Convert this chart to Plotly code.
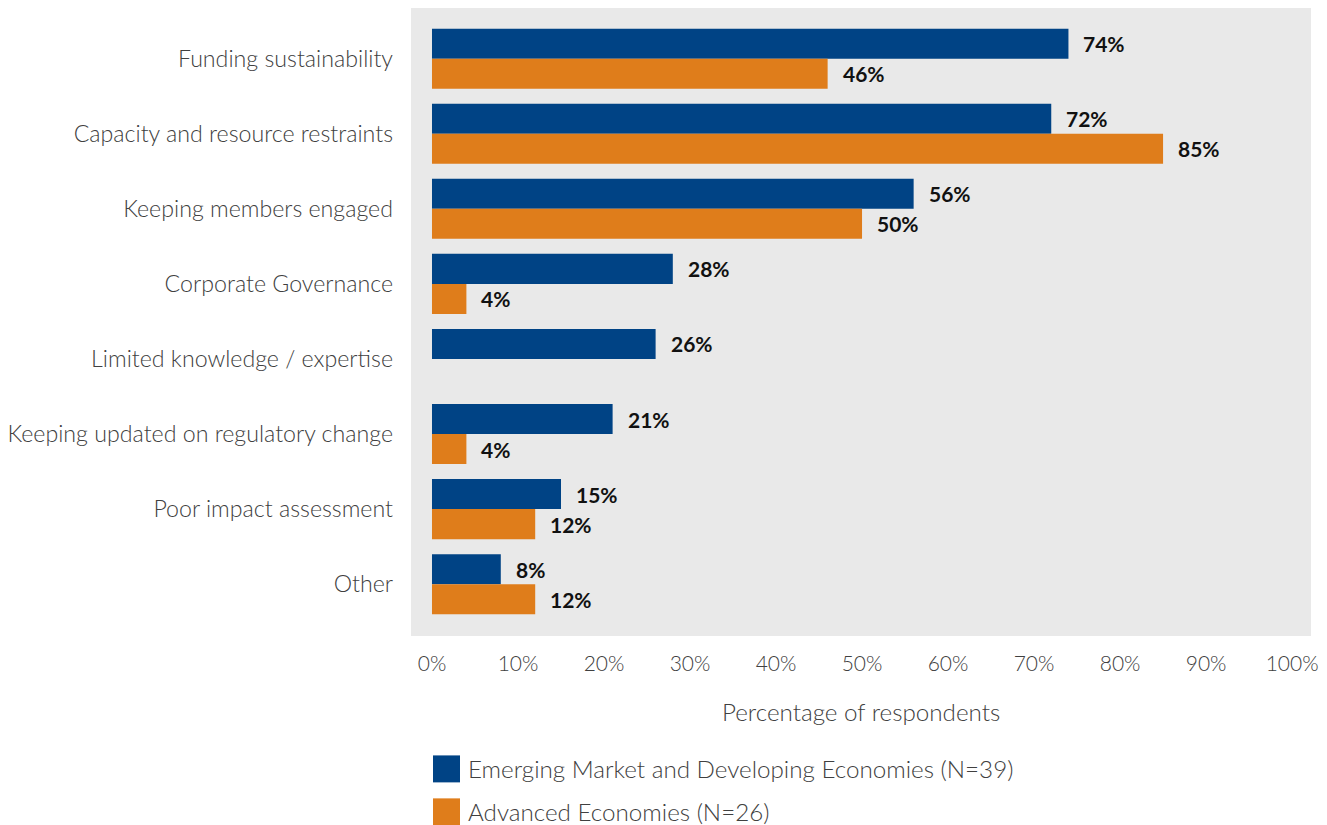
import plotly.graph_objects as go

# Survey data: share of respondents citing each challenge
categories = [
    "Funding sustainability",
    "Capacity and resource restraints",
    "Keeping members engaged",
    "Corporate Governance",
    "Limited knowledge / expertise",
    "Keeping updated on regulatory change",
    "Poor impact assessment",
    "Other",
]
emde_values = [74, 72, 56, 28, 26, 21, 15, 8]
ae_values = [46, 85, 50, 4, None, 4, 12, 12]

series_names = [
    "Emerging Market and Developing Economies (N=39)",
    "Advanced Economies (N=26)",
]
x_tick_values = [0, 10, 20, 30, 40, 50, 60, 70, 80, 90, 100]
x_tick_labels = [f"{v}%" for v in x_tick_values]
x_title = "Percentage of respondents"

BLUE = "#004385"
ORANGE = "#DF7D1B"
TEXT = "#404040"
FONT = "Lato"

W, H = 1327, 825
L, R, T, B = 411, 16, 8, 188.5
plot_w = W - L - R
plot_h = H - T - B


def px_to_paper_y(py):
    return (H - B - py) / plot_h


def px_to_paper_x(px):
    return (px - L) / plot_w


fig = go.Figure()
fig.add_trace(go.Bar(
    y=categories, x=emde_values, orientation="h", name=series_names[0],
    marker=dict(color=BLUE, line=dict(width=0)), showlegend=False,
))
fig.add_trace(go.Bar(
    y=categories, x=ae_values, orientation="h", name=series_names[1],
    marker=dict(color=ORANGE, line=dict(width=0)), showlegend=False,
))

annotations = []
# value labels beside each bar end
for vals, shift in ((emde_values, 15), (ae_values, -15)):
    for cat, v in zip(categories, vals):
        if v is None:
            continue
        annotations.append(dict(
            x=v, y=cat, xref="x", yref="y", text=f"{v}%", showarrow=False,
            xanchor="left", yanchor="middle", xshift=13, yshift=shift,
            font=dict(family=FONT, size=21, color="#111111", weight=700),
        ))

# axis title
annotations.append(dict(
    x=0.5, y=px_to_paper_y(712), xref="paper", yref="paper", text=x_title,
    showarrow=False, xanchor="center", yanchor="middle",
    font=dict(family=FONT, size=24.2, color=TEXT, weight=300),
))

# legend
shapes = []
legend_rows = [(series_names[0], BLUE, 756, 783), (series_names[1], ORANGE, 799, 826)]
for name, color, y0, y1 in legend_rows:
    shapes.append(dict(
        type="rect", xref="paper", yref="paper",
        x0=px_to_paper_x(433), x1=px_to_paper_x(460),
        y0=px_to_paper_y(y1), y1=px_to_paper_y(y0),
        fillcolor=color, line=dict(width=0),
    ))
    annotations.append(dict(
        x=px_to_paper_x(466), y=px_to_paper_y((y0 + y1) / 2),
        xref="paper", yref="paper", text=name, showarrow=False,
        xanchor="left", yanchor="middle",
        font=dict(family=FONT, size=24.2, color=TEXT, weight=300),
    ))

fig.update_layout(
    width=W, height=H,
    margin=dict(l=L, r=R, t=T, b=B, pad=0, autoexpand=False),
    paper_bgcolor="white",
    plot_bgcolor="#E9E9E9",
    barmode="group",
    bargap=0.2,
    bargroupgap=0,
    font=dict(family=FONT, color=TEXT),
    annotations=annotations,
    shapes=shapes,
    xaxis=dict(
        range=[-2.44, 102.2],
        tickvals=x_tick_values, ticktext=x_tick_labels,
        showgrid=False, zeroline=False, showline=False,
        ticks="", ticklabelstandoff=13, automargin=False,
        tickfont=dict(family=FONT, size=21, color=TEXT, weight=300),
        fixedrange=True,
    ),
    yaxis=dict(
        type="category",
        categoryorder="array", categoryarray=categories,
        range=[7.69, -0.675],
        showgrid=False, zeroline=False, showline=False,
        ticks="", ticklabelstandoff=17, automargin=False,
        tickfont=dict(family=FONT, size=23.2, color=TEXT, weight=300),
        fixedrange=True,
    ),
)

fig.write_html("out.html")
